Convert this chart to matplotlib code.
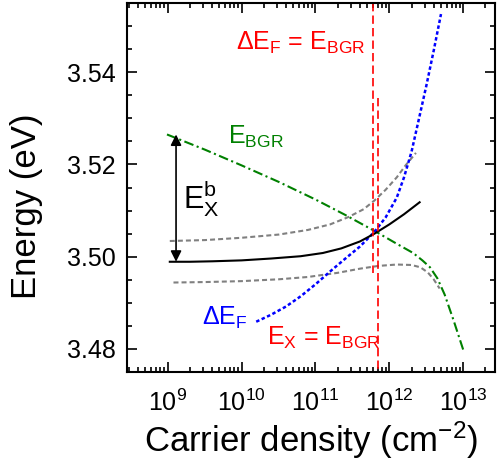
import numpy as np
import matplotlib
matplotlib.use('Agg')
import matplotlib.pyplot as plt
from matplotlib.ticker import LogLocator, MultipleLocator, FormatStrFormatter, NullFormatter

plt.rcParams['font.family'] = ['Liberation Sans', 'DejaVu Sans']
plt.rcParams['mathtext.fontset'] = 'custom'
plt.rcParams['mathtext.rm'] = 'Liberation Sans'
plt.rcParams['mathtext.it'] = 'Liberation Sans:italic'
plt.rcParams['mathtext.bf'] = 'Liberation Sans:bold'
plt.rcParams['lines.scale_dashes'] = False

# exciton energy E_X (black)
n_ex = [1.07e9, 2e9, 4e9, 1e10, 2.5e10, 6.3e10, 1.26e11, 2.24e11, 4e11, 6.3e11, 1e12, 1.58e12, 2.57e12]
e_ex = [3.4989, 3.4989, 3.4990, 3.4992, 3.4996, 3.5001, 3.5008, 3.5018, 3.5033, 3.5050, 3.5070, 3.5092, 3.5118]

# upper / lower bounds (grey dashed)
n_up = [1.07e9, 3.2e9, 1e10, 3.2e10, 7.9e10, 1.58e11, 2.8e11, 4.5e11, 6.3e11, 8.9e11, 1.26e12, 1.66e12, 2.29e12]
e_up = [3.5034, 3.5036, 3.5041, 3.5048, 3.5058, 3.5070, 3.5086, 3.5103, 3.5122, 3.5145, 3.5172, 3.5198, 3.5225]
n_lo = [1.2e9, 3.2e9, 1e10, 3.2e10, 7.9e10, 2e11, 4e11, 7.1e11, 1.26e12, 2e12, 2.63e12, 3.31e12, 3.98e12, 4.79e12]
e_lo = [3.4944, 3.4945, 3.4947, 3.4951, 3.4956, 3.4965, 3.4974, 3.4980, 3.4983, 3.4982, 3.4977, 3.4966, 3.4951, 3.4931]

# band gap renormalisation E_BGR (green)
n_bgr = [9.8e8, 3.2e9, 1e10, 3.2e10, 1e11, 2.5e11, 6.6e11, 1.26e12, 2.1e12, 2.8e12, 3.55e12, 4.47e12, 5.6e12, 7.4e12, 1e13]
e_bgr = [3.5265, 3.5232, 3.5198, 3.5162, 3.5124, 3.5091, 3.5054, 3.5028, 3.5008, 3.4992, 3.4977, 3.4953, 3.4918, 3.4862, 3.4798]

# Fermi energy shift (blue)
n_ef = [1.58e10, 2.5e10, 4e10, 6.3e10, 1e11, 1.58e11, 2.5e11, 4e11, 6.3e11, 8.9e11,
        1.26e12, 1.58e12, 2e12, 2.5e12, 3.16e12, 4e12, 5e12]
e_ef = [3.4859, 3.4874, 3.4892, 3.4914, 3.4940, 3.4968, 3.4995, 3.5022, 3.5054, 3.5085,
        3.5128, 3.5172, 3.5228, 3.5297, 3.5370, 3.5448, 3.5526]

# vertical markers (red)
n_mark = [6.0e11, 7.0e11]
e_mark_top = [3.555, 3.5345]
e_mark_bot = [3.4964, 3.475]

fig = plt.figure(figsize=(4.99, 4.63), dpi=100)
ax = fig.add_axes([127/499, 91/463, 368/499, 369/463])

ax.plot(n_up, e_up, color='#808080', lw=1.5, ls=(0, (3.6, 2.2)))
ax.plot(n_lo, e_lo, color='#808080', lw=1.5, ls=(0, (3.6, 2.2)))
ax.plot(n_bgr, e_bgr, color='#008000', lw=1.5, ls=(0, (7, 2.5, 1.5, 2.5)))
ax.plot(n_ef, e_ef, color='#0000ff', lw=1.8, ls=(0, (2.5, 1.8)))
ax.plot(n_ex, e_ex, color='k', lw=1.5)
for x, t, b in zip(n_mark, e_mark_top, e_mark_bot):
    ax.plot([x, x], [t, b], color='red', lw=1.2, ls=(0, (6, 3)))

# binding energy arrow
ax.annotate('', xy=(1.3e9, e_ex[0]), xytext=(1.3e9, e_bgr[0]),
            arrowprops=dict(arrowstyle='<|-|>', color='k', lw=1.2,
                            mutation_scale=16, shrinkA=0, shrinkB=0))

ax.text(8.5e9, 3.5448, r'ΔE$_{\mathregular{F}}$ = E$_{\mathregular{BGR}}$', color='red', fontsize=18)
ax.text(6.5e9, 3.5245, r'E$_{\mathregular{BGR}}$', color='#008000', fontsize=18)
ax.text(1.6e9, 3.5105, r'E$_{\mathregular{X}}^{\mathregular{b}}$', color='k', fontsize=22)
ax.text(2.9e9, 3.4852, r'ΔE$_{\mathregular{F}}$', color='#0000ff', fontsize=18)
ax.text(2.2e10, 3.4809, r'E$_{\mathregular{X}}$ = E$_{\mathregular{BGR}}$', color='red', fontsize=18)

ax.set_xscale('log')
ax.set_xlim(2.82e8, 2.69e13)
ax.set_ylim(3.475, 3.555)
ax.xaxis.set_major_locator(LogLocator(base=10, numticks=20))
ax.xaxis.set_minor_locator(LogLocator(base=10, subs=np.arange(2, 10), numticks=20))
ax.xaxis.set_minor_formatter(NullFormatter())
ax.yaxis.set_major_locator(MultipleLocator(0.02))
ax.yaxis.set_minor_locator(MultipleLocator(0.005))
ax.yaxis.set_major_formatter(FormatStrFormatter('%.2f'))

ax.tick_params(which='both', direction='in', top=True, right=True, width=1.2, labelsize=18)
ax.tick_params(which='major', length=7)
ax.tick_params(which='minor', length=3.5)
ax.tick_params(axis='y', which='major', pad=8)
ax.tick_params(axis='x', which='major', pad=13)
for s in ax.spines.values():
    s.set_linewidth(1.5)

ax.set_xlabel('Carrier density (cm$^{\\mathregular{-2}}$)', fontsize=25, labelpad=2)
ax.set_ylabel('Energy (eV)', fontsize=25)
ax.yaxis.set_label_coords(-0.228, 0.45)

fig.savefig('out.png', dpi=100)
